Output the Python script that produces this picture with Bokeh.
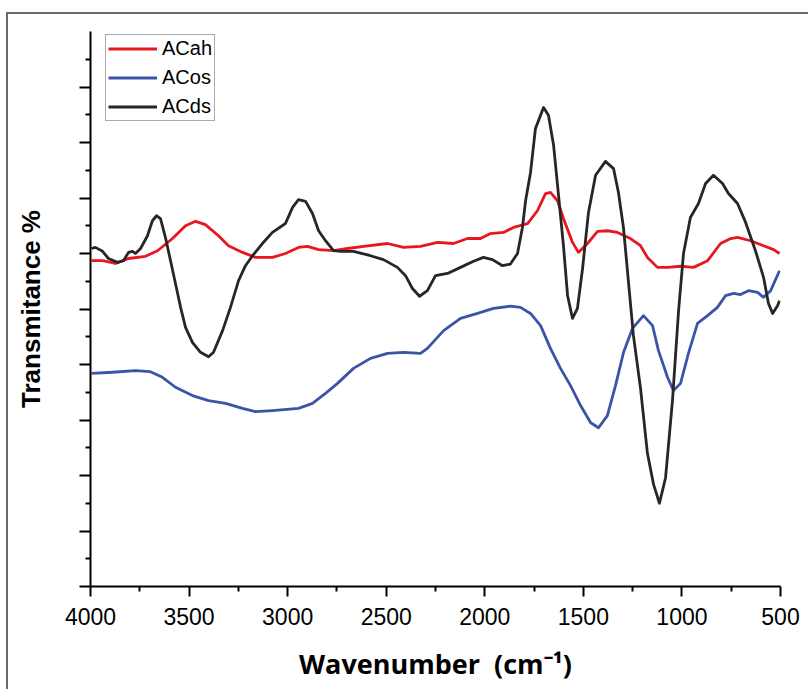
from bokeh.plotting import figure
from bokeh.models import Range1d, FixedTicker, Legend, LegendItem
from bokeh.embed import file_html
from bokeh.resources import INLINE

# ---- data (wavenumber cm-1, transmittance arbitrary %) ----
acds_x = [3995, 3975, 3939, 3909, 3863, 3833, 3807, 3787, 3772, 3746, 3711, 3686, 3665, 3645,
          3620, 3594, 3569, 3543, 3518, 3483, 3442, 3401, 3376, 3330, 3290, 3249, 3214, 3178,
          3128, 3077, 3011, 2975, 2945, 2909, 2874, 2843, 2808, 2767, 2732, 2666, 2580, 2514,
          2443, 2402, 2367, 2331, 2291, 2250, 2189, 2123, 2057, 2007, 1961, 1910, 1870, 1834,
          1809, 1793, 1768, 1743, 1702, 1677, 1651, 1626, 1601, 1580, 1555, 1530, 1504, 1474,
          1438, 1388, 1347, 1322, 1296, 1271, 1246, 1210, 1175, 1144, 1114, 1083, 1048, 1017,
          992, 957, 916, 880, 840, 794, 764, 718, 677, 627, 586, 561, 540, 515, 505]
acds_y = [60.9, 61.1, 60.4, 59.1, 58.4, 58.7, 60.2, 60.4, 60.0, 60.9, 63.2, 65.9, 66.8, 66.3,
          62.9, 58.7, 54.6, 50.3, 46.7, 44.0, 42.2, 41.4, 42.2, 46.1, 50.3, 55.1, 57.8, 59.6,
          61.8, 63.8, 65.4, 68.3, 69.7, 69.4, 67.2, 64.1, 62.3, 60.5, 60.4, 60.4, 59.6, 58.9,
          57.5, 56.0, 53.7, 52.3, 53.3, 56.0, 56.4, 57.5, 58.6, 59.3, 58.9, 57.8, 58.1, 60.0,
          64.7, 69.5, 74.6, 82.5, 86.3, 84.9, 79.5, 70.5, 61.4, 52.4, 48.3, 50.1, 57.3, 67.4,
          74.1, 76.6, 75.3, 71.0, 64.5, 54.8, 45.2, 35.7, 24.0, 18.4, 15.0, 19.6, 33.5, 49.7,
          60.0, 66.5, 69.0, 72.6, 74.1, 72.6, 70.8, 69.0, 65.6, 60.5, 55.7, 51.0, 49.2, 50.6, 51.5]

acah_x = [3995, 3939, 3873, 3807, 3721, 3660, 3584, 3518, 3467, 3417, 3351, 3300, 3229, 3163,
          3077, 3011, 2945, 2899, 2843, 2767, 2696, 2615, 2493, 2412, 2326, 2240, 2159, 2088,
          2022, 1971, 1905, 1854, 1783, 1733, 1692, 1667, 1631, 1601, 1555, 1525, 1479, 1428,
          1378, 1327, 1261, 1210, 1175, 1124, 1073, 1007, 941, 870, 804, 753, 718, 652, 586,
          535, 505]
acah_y = [58.7, 58.7, 58.2, 59.1, 59.5, 60.5, 62.7, 65.0, 65.8, 65.2, 63.2, 61.4, 60.2, 59.3,
          59.3, 60.0, 61.1, 61.3, 60.7, 60.5, 60.9, 61.3, 61.8, 61.1, 61.3, 62.0, 61.8, 62.7,
          62.7, 63.6, 63.8, 64.7, 65.4, 67.7, 70.8, 71.0, 69.5, 66.3, 62.0, 60.2, 61.8, 64.0,
          64.1, 63.8, 62.7, 61.4, 59.3, 57.5, 57.5, 57.7, 57.5, 58.7, 61.8, 62.7, 62.9, 62.3,
          61.4, 60.7, 60.0]

acos_x = [3995, 3888, 3772, 3696, 3635, 3569, 3483, 3401, 3315, 3229, 3163, 3077, 2945, 2874,
          2808, 2747, 2666, 2580, 2493, 2412, 2326, 2291, 2209, 2123, 2037, 1956, 1870, 1819,
          1768, 1717, 1667, 1616, 1565, 1514, 1463, 1423, 1378, 1337, 1296, 1251, 1195, 1149,
          1119, 1073, 1043, 1007, 967, 921, 870, 820, 779, 738, 703, 662, 616, 586, 550, 505]
acos_y = [38.4, 38.6, 38.9, 38.7, 37.7, 35.9, 34.4, 33.5, 33.0, 32.1, 31.5, 31.7, 32.1, 33.0,
          34.8, 36.6, 39.3, 41.1, 42.0, 42.2, 42.0, 42.9, 46.1, 48.3, 49.2, 50.1, 50.5, 50.3,
          49.2, 47.0, 42.9, 39.3, 36.2, 32.6, 29.5, 28.6, 30.8, 36.2, 42.2, 46.5, 48.8, 47.0,
          42.5, 37.7, 35.3, 36.6, 42.0, 47.4, 48.8, 50.3, 52.4, 52.8, 52.6, 53.3, 53.0, 52.1,
          53.3, 56.9]

series_names = ["ACah", "ACos", "ACds"]
x_ticks = [4000, 3500, 3000, 2500, 2000, 1500, 1000, 500]
x_minor = [3750, 3250, 2750, 2250, 1750, 1250, 750]
y_ticks = [0, 10, 20, 30, 40, 50, 60, 70, 80, 90]
y_minor = [5, 15, 25, 35, 45, 55, 65, 75, 85, 95]

RED = "#e8161e"
BLUE = "#3b55a6"
BLACK = "#262626"

W, H = 802, 677
p = figure(width=W, height=H, output_backend="svg", toolbar_location=None,
           x_range=Range1d(4000, 500), y_range=Range1d(0, 100),
           min_border_left=82, min_border_right=30, min_border_top=17, min_border_bottom=105)
p.styles = {"margin-left": "6px", "margin-top": "12px",
            "border-top": "2px solid #6a6a6a", "border-left": "2px solid #6a6a6a"}

p.outline_line_color = None
p.grid.visible = False
p.background_fill_color = "white"
p.border_fill_color = "white"

r_ah = p.line(acah_x, acah_y, line_color=RED, line_width=2.8, line_join="round")
r_os = p.line(acos_x, acos_y, line_color=BLUE, line_width=2.8, line_join="round")
r_ds = p.line(acds_x, acds_y, line_color=BLACK, line_width=2.8, line_join="round")

# x axis
xa = p.xaxis[0]
xa.ticker = FixedTicker(ticks=x_ticks, minor_ticks=x_minor)
xa.axis_line_width = 2
xa.axis_line_color = "black"
xa.major_tick_line_width = 2
xa.minor_tick_line_width = 2
xa.major_tick_in = 0
xa.major_tick_out = 10
xa.minor_tick_in = 0
xa.minor_tick_out = 5
xa.major_label_text_font = "Liberation Sans"
xa.major_label_text_font_size = "23px"
xa.major_label_text_color = "black"
xa.major_label_standoff = 11
xa.axis_label = "Wavenumber\u00a0 (cm\u207b\u00b9)"
xa.axis_label_text_font = "Open Sans"
xa.axis_label_text_font_style = "bold"
xa.axis_label_text_font_size = "27px"
xa.axis_label_text_color = "black"
xa.axis_label_standoff = 17

# y axis
ya = p.yaxis[0]
ya.ticker = FixedTicker(ticks=y_ticks, minor_ticks=y_minor)
ya.axis_line_width = 2
ya.axis_line_color = "black"
ya.major_tick_line_width = 2
ya.minor_tick_line_width = 2
ya.major_tick_in = 0
ya.major_tick_out = 11
ya.minor_tick_in = 0
ya.minor_tick_out = 5
ya.major_label_overrides = {t: "" for t in y_ticks}
ya.major_label_text_font_size = "1px"
ya.axis_label = "Transmitance %"
ya.axis_label_text_font = "Liberation Sans"
ya.axis_label_text_font_style = "bold"
ya.axis_label_text_font_size = "26px"
ya.axis_label_text_color = "black"
ya.axis_label_standoff = 34

legend = Legend(items=[LegendItem(label=series_names[0], renderers=[r_ah]),
                       LegendItem(label=series_names[1], renderers=[r_os]),
                       LegendItem(label=series_names[2], renderers=[r_ds])],
                location=(15, 465))
legend.label_text_font = "Liberation Sans"
legend.label_text_font_size = "20px"
legend.label_text_color = "black"
legend.glyph_width = 49
legend.glyph_height = 21
legend.label_height = 21
legend.label_standoff = 5
legend.spacing = 6
legend.padding = 2
legend.margin = 0
legend.border_line_color = "#555555"
legend.border_line_width = 1
legend.background_fill_color = "white"
legend.background_fill_alpha = 1
p.add_layout(legend)

open("out.html", "w").write(file_html(p, INLINE))
